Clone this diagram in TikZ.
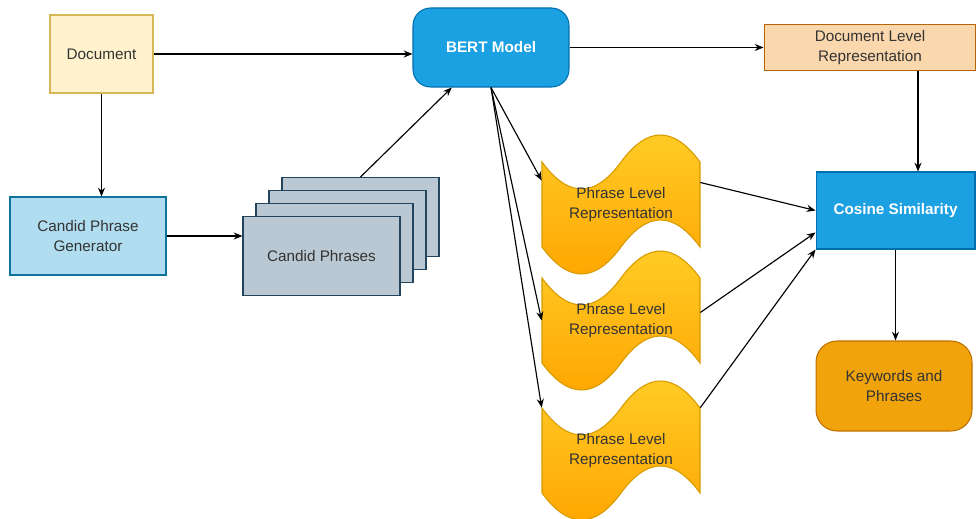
\documentclass[tikz,border=0pt]{standalone}
\usepackage{fontspec}
\setmainfont{Liberation Sans}
\usetikzlibrary{arrows.meta,calc}

\definecolor{docfill}{HTML}{FFF2CC}
\definecolor{docline}{HTML}{D6B656}
\definecolor{genfill}{HTML}{B1DDF0}
\definecolor{genline}{HTML}{10739E}
\definecolor{stkfill}{HTML}{BAC8D3}
\definecolor{stkline}{HTML}{23445D}
\definecolor{bertfill}{HTML}{1BA1E2}
\definecolor{bertline}{HTML}{006EAF}
\definecolor{repfill}{HTML}{FAD7AC}
\definecolor{repline}{HTML}{B46504}
\definecolor{kwfill}{HTML}{F0A30A}
\definecolor{kwline}{HTML}{BD7000}
\definecolor{tapetop}{HTML}{FFCD28}
\definecolor{tapebot}{HTML}{FFA500}
\definecolor{tapeline}{HTML}{D79B00}

\begin{document}
\begin{tikzpicture}[>={Stealth[length=5pt,width=4pt]},x=0.02cm,y=-0.02cm,font=\fontsize{8.7}{11.3}\selectfont]
\useasboundingbox (0,0) rectangle (976,519);
\tikzstyle{bx}=[draw,line width=0.6pt,minimum width=3.12cm,minimum height=1.56cm,align=center,text=black!80]
\tikzstyle{stk}=[bx,fill=stkfill,draw=stkline,minimum width=3.14cm,minimum height=1.58cm]
\tikzstyle{lbl}=[minimum width=3.16cm,minimum height=1.7cm,align=center,text=black!80]
\tikzstyle{ar}=[->,line width=0.65pt]

\node[bx,fill=docfill,draw=docline,minimum width=2.06cm] (doc) at (101.5,54) {Document};
\node[bx,fill=genfill,draw=genline] (gen) at (88,236) {Candid Phrase\\Generator};
\node[stk] (cp4) at (360.5,217) {};
\node[stk] (cp3) at (347.5,230) {};
\node[stk] (cp2) at (334.5,243) {};
\node[stk] (cp1) at (321.5,256) {Candid Phrases};
\node[bx,fill=bertfill,draw=bertline,rounded corners=10pt,minimum height=1.58cm,text=white,font=\fontsize{8.7}{11.3}\selectfont\bfseries] (bert) at (491,47.5) {BERT Model};
\node[bx,fill=repfill,draw=repline,minimum width=4.24cm,minimum height=0.78cm] (rep) at (870,47.5) {Document Level\\Representation};
\node[bx,fill=bertfill,draw=bertline,minimum width=3.18cm,minimum height=1.54cm,text=white,font=\fontsize{8.7}{11.3}\selectfont\bfseries] (cos) at (895.5,210.5) {Cosine Similarity};
\node[bx,fill=kwfill,draw=kwline,rounded corners=12pt,minimum height=1.8cm] (kw) at (894,386) {Keywords and\\Phrases};
\coordinate (rs) at ($(rep.south)+(48,0)$);

% phrase level tapes
\foreach \t/\n in {132/p1,248/p2,378/p3}{
  \draw[tapeline,line width=0.6pt,top color=tapetop,bottom color=tapebot,shift={(542,\t)}]
    (0,30) .. controls (26.33,66) and (52.67,66) .. (79,30)
    .. controls (105.33,-6) and (131.67,-6) .. (158,30) -- (158,115)
    .. controls (131.67,79) and (105.33,79) .. (79,115)
    .. controls (52.67,151) and (26.33,151) .. (0,115) -- cycle;
  \node[lbl] (\n) at (621,\t+72.5) {Phrase Level\\Representation};
}

\draw[ar] (doc.east) -- (doc.east -| bert.west);
\draw[ar] (doc.south) -- (doc.south |- gen.north);
\draw[ar] (gen.east) -- (gen.east -| cp1.west);
\draw[ar] (cp4.north) -- ($(bert.south west)!0.25!(bert.south east)$);
\draw[ar] (bert.east) -- (rep.west);
\draw[ar] (rs) -- (rs |- cos.north);
\draw[ar] (bert.south) -- ($(p1.west)+(0,-24)$);
\draw[ar] (bert.south) -- (p2.west);
\draw[ar] (bert.south) -- (p3.north west);
\draw[ar] ($(p1.east)+(0,-22)$) -- (cos.west);
\draw[ar] ($(p2.east)+(0,-8)$) -- ($(cos.west)+(0,22)$);
\draw[ar] (p3.north east) -- (cos.south west);
\draw[ar] (cos.south) -- (cos.south |- kw.north);
\end{tikzpicture}
\end{document}
